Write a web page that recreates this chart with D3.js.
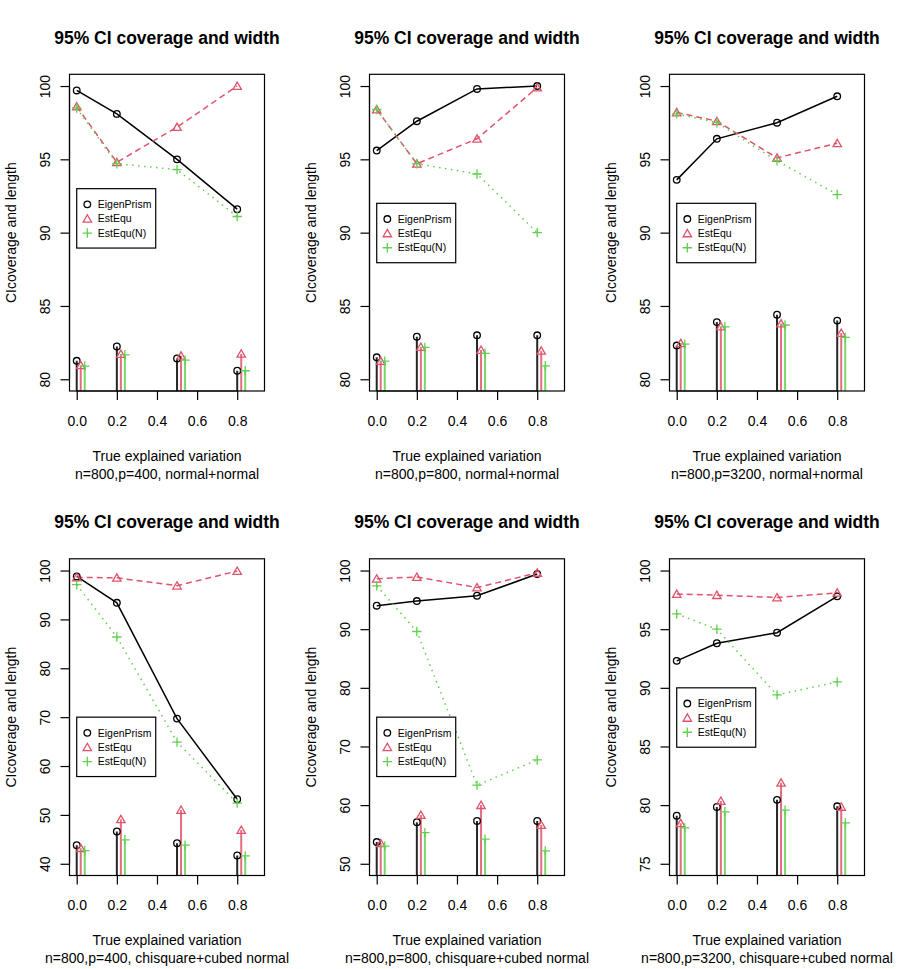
<!DOCTYPE html>
<html>
<head>
<meta charset="utf-8">
<script src="https://cdn.jsdelivr.net/npm/d3@7/dist/d3.min.js"></script>
<style>
  body { margin: 0; background: #fff; }
  svg { display: block; font-family: "Liberation Sans", Arial, sans-serif; }
</style>
</head>
<body>
<div id="chart"></div>
<script>
// x positions of the simulated settings
const xValues = [0, 0.2, 0.5, 0.8];
const xTicks = [0, 0.2, 0.4, 0.6, 0.8];
const xTickLabels = ["0.0", "0.2", "0.4", "0.6", "0.8"];

const seriesNames = ["EigenPrism", "EstEqu", "EstEqu(N)"];
const barOffsets = [0, 0.02, 0.04];

const panelTitles = [
    "95% CI coverage and width", "95% CI coverage and width", "95% CI coverage and width",
    "95% CI coverage and width", "95% CI coverage and width", "95% CI coverage and width"
];
const panelSubtitles = [
    "n=800,p=400, normal+normal",
    "n=800,p=800, normal+normal",
    "n=800,p=3200, normal+normal",
    "n=800,p=400, chisquare+cubed normal",
    "n=800,p=800, chisquare+cubed normal",
    "n=800,p=3200, chisquare+cubed normal"
];

const yLimits = [[80, 100], [80, 100], [80, 100], [40, 100], [50, 100], [75, 100]];
const yTicks = [
    [80, 85, 90, 95, 100],
    [80, 85, 90, 95, 100],
    [80, 85, 90, 95, 100],
    [40, 50, 60, 70, 80, 90, 100],
    [50, 60, 70, 80, 90, 100],
    [75, 80, 85, 90, 95, 100]
];
const legendTop = [93, 92, 92, 70, 75, 90];

// coverage (lines)
const coverageEigenPrism = [
    [99.7, 98.1, 95.0, 91.6],
    [95.6, 97.6, 99.8, 100.0],
    [93.6, 96.4, 97.5, 99.3],
    [98.8, 93.4, 69.7, 53.2],
    [94.0, 94.8, 95.7, 99.4],
    [92.3, 93.8, 94.7, 97.8]
];
const coverageEstEqu = [
    [98.6, 94.8, 97.2, 100.0],
    [98.4, 94.7, 96.4, 99.9],
    [98.2, 97.6, 95.1, 96.1],
    [98.6, 98.5, 96.9, 99.9],
    [98.6, 98.9, 97.1, 99.6],
    [98.0, 97.9, 97.7, 98.1]
];
const coverageEstEquN = [
    [98.5, 94.7, 94.3, 91.1],
    [98.4, 94.7, 94.0, 90.0],
    [98.1, 97.5, 94.9, 92.6],
    [97.1, 86.4, 64.9, 52.4],
    [97.4, 89.6, 63.4, 67.7],
    [96.3, 95.0, 89.4, 90.5]
];

// interval length (vertical bars)
const lengthEigenPrism = [
    [81.26, 82.24, 81.42, 80.58],
    [81.5, 82.9, 83.0, 83.0],
    [82.3, 83.9, 84.4, 84.0],
    [43.8, 46.6, 44.2, 41.7],
    [53.7, 57.1, 57.3, 57.3],
    [79.1, 79.85, 80.45, 79.9]
];
const lengthEstEqu = [
    [80.95, 81.72, 81.6, 81.74],
    [81.24, 82.2, 82.0, 81.94],
    [82.45, 83.6, 83.8, 83.15],
    [43.2, 49.1, 51.0, 46.9],
    [53.5, 58.3, 60.0, 56.6],
    [78.45, 80.35, 81.9, 79.85]
];
const lengthEstEquN = [
    [80.9, 81.67, 81.3, 80.58],
    [81.24, 82.17, 81.77, 80.92],
    [82.4, 83.58, 83.7, 82.86],
    [42.7, 44.9, 43.8, 41.6],
    [53.0, 55.3, 54.2, 52.2],
    [78.06, 79.43, 79.57, 78.49]
];

const colors = ["#000000", "#DF536B", "#61D04F"];
const dashes = [null, "6,4", "1.5,4.5"];

const W = 900, H = 969;
const cellW = 300, cellH = 484.5;
const box = { left: 69.5, right: 264.5, top: 74.3, bottom: 391 };

const svg = d3.select("#chart").append("svg")
    .attr("width", W)
    .attr("height", H);

function drawSymbol(g, k, cx, cy, color) {
    if (k === 0) {
        g.append("circle")
            .attr("cx", cx).attr("cy", cy).attr("r", 3.3)
            .attr("fill", "none").attr("stroke", color).attr("stroke-width", 1.3);
    } else if (k === 1) {
        const s = 4.2;
        g.append("path")
            .attr("d", `M${cx - s},${cy + s * 0.8}L${cx + s},${cy + s * 0.8}L${cx},${cy - s * 0.95}Z`)
            .attr("fill", "none").attr("stroke", color).attr("stroke-width", 1.3);
    } else {
        const s = 4.7;
        g.append("path")
            .attr("d", `M${cx - s},${cy}L${cx + s},${cy}M${cx},${cy - s}L${cx},${cy + s}`)
            .attr("fill", "none").attr("stroke", color).attr("stroke-width", 1.3);
    }
}

panelSubtitles.forEach((subtitle, i) => {
    const col = i % 3, row = Math.floor(i / 3);
    const g = svg.append("g")
        .attr("transform", `translate(${col * cellW},${row * cellH})`);

    const [ymin, ymax] = yLimits[i];
    const ext = (ymax - ymin) * 0.04;
    const x = d3.scaleLinear().domain([-0.036, 0.936]).range([box.left, box.right]);
    const y = d3.scaleLinear().domain([ymin - ext, ymax + ext]).range([box.bottom, box.top]);

    const clipId = "clip" + i;
    g.append("clipPath").attr("id", clipId)
        .append("rect")
        .attr("x", box.left).attr("y", box.top)
        .attr("width", box.right - box.left).attr("height", box.bottom - box.top);

    const plot = g.append("g").attr("clip-path", `url(#${clipId})`);

    // interval length bars
    const lengths = [lengthEigenPrism[i], lengthEstEqu[i], lengthEstEquN[i]];
    lengths.forEach((vals, k) => {
        plot.selectAll(null)
            .data(vals)
            .enter()
            .append("line")
            .attr("x1", (d, j) => x(xValues[j] + barOffsets[k]))
            .attr("x2", (d, j) => x(xValues[j] + barOffsets[k]))
            .attr("y1", box.bottom + 2)
            .attr("y2", d => y(d))
            .attr("stroke", colors[k])
            .attr("stroke-opacity", k === 0 ? 0.85 : 0.85)
            .attr("stroke-width", 2);
    });
    lengths.forEach((vals, k) => {
        vals.forEach((d, j) => drawSymbol(plot, k, x(xValues[j] + barOffsets[k]), y(d), colors[k]));
    });

    // coverage lines
    const coverage = [coverageEigenPrism[i], coverageEstEqu[i], coverageEstEquN[i]];
    const line = d3.line()
        .x((d, j) => x(xValues[j]))
        .y(d => y(d));
    coverage.forEach((vals, k) => {
        plot.append("path")
            .datum(vals)
            .attr("d", line)
            .attr("fill", "none")
            .attr("stroke", colors[k])
            .attr("stroke-width", 1.5)
            .attr("stroke-dasharray", dashes[k]);
    });
    coverage.forEach((vals, k) => {
        vals.forEach((d, j) => drawSymbol(g, k, x(xValues[j]), y(d), colors[k]));
    });

    // box
    g.append("rect")
        .attr("x", box.left).attr("y", box.top)
        .attr("width", box.right - box.left).attr("height", box.bottom - box.top)
        .attr("fill", "none").attr("stroke", "#000").attr("stroke-width", 1.2);

    // x axis
    const xAxis = d3.axisBottom(x)
        .tickValues(xTicks)
        .tickFormat((d, j) => xTickLabels[j])
        .tickSize(9)
        .tickPadding(16);
    const xg = g.append("g")
        .attr("transform", `translate(0,${box.bottom})`)
        .call(xAxis);
    xg.select(".domain").attr("d", `M${x(xTicks[0])},0H${x(xTicks[xTicks.length - 1])}`)
        .attr("stroke-width", 1.2);
    xg.selectAll(".tick line").attr("stroke-width", 1.2);
    xg.selectAll(".tick text")
        .attr("font-size", 14).attr("fill", "#000")
        .attr("font-family", "Liberation Sans, Arial, sans-serif");

    // y axis
    const yt = yTicks[i];
    const yAxis = d3.axisLeft(y)
        .tickValues(yt)
        .tickFormat(d3.format("d"))
        .tickSize(9);
    const yg = g.append("g")
        .attr("transform", `translate(${box.left},0)`)
        .call(yAxis);
    yg.select(".domain").attr("d", `M0,${y(yt[0])}V${y(yt[yt.length - 1])}`)
        .attr("stroke-width", 1.2);
    yg.selectAll(".tick line").attr("stroke-width", 1.2);
    yg.selectAll(".tick text")
        .attr("font-size", 14).attr("fill", "#000")
        .attr("font-family", "Liberation Sans, Arial, sans-serif")
        .attr("x", null).attr("dy", null)
        .attr("text-anchor", "middle")
        .attr("transform", `translate(${50 - box.left},0) rotate(-90)`);

    // titles and labels
    g.append("text")
        .attr("x", (box.left + box.right) / 2).attr("y", 43.5)
        .attr("text-anchor", "middle")
        .attr("font-size", 17.5).attr("font-weight", "bold")
        .text(panelTitles[i]);

    g.append("text")
        .attr("x", (box.left + box.right) / 2).attr("y", 460.7)
        .attr("text-anchor", "middle").attr("font-size", 14)
        .text("True explained variation");

    g.append("text")
        .attr("x", (box.left + box.right) / 2).attr("y", 478.7)
        .attr("text-anchor", "middle").attr("font-size", 14)
        .text(subtitle);

    g.append("text")
        .attr("transform", `translate(16,${(box.top + box.bottom) / 2}) rotate(-90)`)
        .attr("text-anchor", "middle").attr("font-size", 14)
        .text("CIcoverage and length");

    // legend
    const lx = x(0), ly = y(legendTop[i]);
    const lg = g.append("g").attr("transform", `translate(${lx},${ly})`);
    lg.append("rect")
        .attr("x", 0).attr("y", 0).attr("width", 79).attr("height", 59.4)
        .attr("fill", "#fff").attr("stroke", "#000").attr("stroke-width", 1.2);
    seriesNames.forEach((name, k) => {
        const ry = 15.7 + k * 14.35;
        drawSymbol(lg, k, 10.6, ry, colors[k]);
        lg.append("text")
            .attr("x", 21).attr("y", ry)
            .attr("dy", "0.36em")
            .attr("font-size", 10.5)
            .text(name);
    });
});
</script>
</body>
</html>
